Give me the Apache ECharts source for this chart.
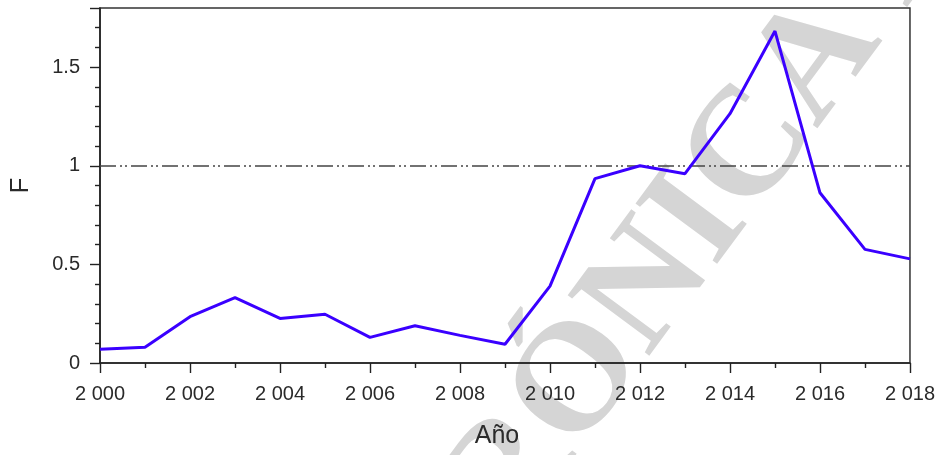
<!DOCTYPE html>
<html>
<head>
<meta charset="utf-8">
<script src="https://cdn.jsdelivr.net/npm/echarts@6/dist/echarts.min.js"></script>
<style>
  html, body { margin: 0; padding: 0; background: #fff; }
  #chart { width: 938px; height: 455px; }
</style>
</head>
<body>
<div id="chart"></div>
<script>
// Annual values of F, 2000-2018
const years = [2000, 2001, 2002, 2003, 2004, 2005, 2006, 2007, 2008, 2009,
               2010, 2011, 2012, 2013, 2014, 2015, 2016, 2017, 2018];
const fValues = [0.07, 0.08, 0.235, 0.331, 0.226, 0.247, 0.13, 0.189, 0.14, 0.095,
                 0.39, 0.935, 1.0, 0.96, 1.264, 1.683, 0.863, 0.576, 0.528];
const referenceLevel = 1;
const yTicks = [0, 0.5, 1, 1.5];

const chart = echarts.init(document.getElementById('chart'), null, { renderer: 'canvas' });

const textColor = '#2a2a2a';
const axisColor = '#222';
const fontFamily = '"Liberation Sans", Arial, sans-serif';

// Large grey stamp text running diagonally behind the plot
const stampAngle = 53.5 * Math.PI / 180;
const stampAnchor = [477, 521];
const stampStyle = {
  font: 'bold 155px "Liberation Serif", "DejaVu Serif", serif',
  fill: '#d5d5d5',
  verticalAlign: 'middle'
};

const option = {
  animation: false,
  backgroundColor: '#fff',
  graphic: [
    {
      type: 'text', x: stampAnchor[0], y: stampAnchor[1], rotation: stampAngle, z: -10,
      style: Object.assign({ text: 'RÓNICA AUTÉNTICA', align: 'left' }, stampStyle)
    },
    {
      type: 'text', x: stampAnchor[0], y: stampAnchor[1], rotation: stampAngle, z: -10,
      style: Object.assign({ text: 'COPIA ELECT', align: 'right' }, stampStyle)
    }
  ],
  grid: {
    left: 97, right: 28, top: 8, bottom: 92,
    show: true, borderColor: '#333', borderWidth: 1.5, backgroundColor: 'transparent'
  },
  xAxis: {
    type: 'value',
    min: 2000, max: 2018, interval: 2,
    name: 'Año', nameLocation: 'middle', nameGap: 61,
    nameTextStyle: { fontSize: 25, color: textColor, fontFamily: fontFamily, padding: [0, 16, 0, 0] },
    axisLine: { show: true, lineStyle: { color: axisColor, width: 1.6 } },
    axisTick: { show: true, length: 10, inside: false, lineStyle: { color: axisColor, width: 1.4 } },
    minorTick: { show: true, splitNumber: 2, length: 5, lineStyle: { color: axisColor, width: 1.4 } },
    splitLine: { show: false },
    axisLabel: {
      fontSize: 20, color: textColor, fontFamily: fontFamily, margin: 21,
      formatter: v => String(v).replace(/^(\d)/, '$1 ')
    }
  },
  yAxis: {
    type: 'value',
    min: 0, max: 1.8, interval: 0.5,
    name: 'F', nameLocation: 'middle', nameRotate: 90, nameGap: 66,
    nameTextStyle: { fontSize: 26, color: textColor, fontFamily: fontFamily },
    axisLine: { show: true, lineStyle: { color: axisColor, width: 1.6 } },
    axisTick: { show: true, length: 10, lineStyle: { color: axisColor, width: 1.4 } },
    minorTick: { show: true, splitNumber: 5, length: 5, lineStyle: { color: axisColor, width: 1.4 } },
    splitLine: { show: false },
    axisLabel: {
      fontSize: 20, color: textColor, fontFamily: fontFamily, margin: 20,
      showMaxLabel: false,
      formatter: v => (yTicks.indexOf(v) >= 0 ? String(v) : '')
    }
  },
  series: [
    {
      type: 'line',
      data: years.map((y, i) => [y, fValues[i]]),
      showSymbol: false,
      symbol: 'none',
      lineStyle: { color: '#3a00ff', width: 3 },
      z: 5,
      markLine: {
        silent: true,
        symbol: 'none',
        label: { show: false },
        lineStyle: { color: '#444', width: 1.6, type: [16, 4, 2, 3, 2, 4] },
        data: [{ yAxis: referenceLevel }]
      }
    }
  ]
};

chart.setOption(option);
</script>
</body>
</html>
